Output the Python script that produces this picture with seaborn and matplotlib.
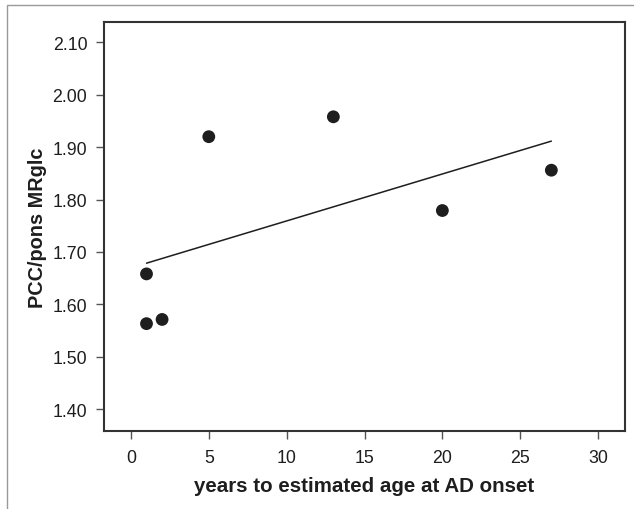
import matplotlib
matplotlib.use("Agg")
import matplotlib.pyplot as plt
import seaborn as sns
import pandas as pd
from matplotlib.patches import Rectangle

years = [1, 1, 2, 5, 13, 20, 27]
ratio = [1.658, 1.563, 1.571, 1.920, 1.958, 1.779, 1.856]
xticks = [0, 5, 10, 15, 20, 25, 30]
yticks = [1.40, 1.50, 1.60, 1.70, 1.80, 1.90, 2.00, 2.10]

sns.set_style("white")
plt.rcParams['font.family'] = ['Liberation Sans', 'DejaVu Sans']

df = pd.DataFrame({"years": years, "ratio": ratio})

fig = plt.figure(figsize=(6.34, 5.10), dpi=100)
fig.patches.append(Rectangle((7/634, -0.1), 1.2, 1 - 6/510 + 0.1, transform=fig.transFigure,
                             fill=False, edgecolor="#999999", linewidth=1.0))
ax = fig.add_axes([104/634, 78/510, 521/634, 409/510])

sns.regplot(data=df, x="years", y="ratio", ax=ax, ci=None, truncate=True,
            scatter_kws=dict(s=85, color="#1e1e1e", edgecolor="none", alpha=1, zorder=3),
            line_kws=dict(color="#1e1e1e", linewidth=1.1))

ax.set_xlim(-1.73, 31.73)
ax.set_ylim(1.358, 2.139)
ax.set_xticks(xticks)
ax.set_xticklabels([str(t) for t in xticks])
ax.set_yticks(yticks)
ax.set_yticklabels([f"{t:.2f}" for t in yticks])
ax.tick_params(axis="both", direction="out", length=6, width=1, color="#555555",
               labelsize=12.8, labelcolor="#1e1e1e")
ax.tick_params(axis="x", bottom=True, pad=7)
ax.tick_params(axis="y", left=True, pad=6)
for sp in ax.spines.values():
    sp.set_visible(True)
    sp.set_color("#333333")
    sp.set_linewidth(1.5)

ax.set_xlabel("years to estimated age at AD onset", fontsize=14.8, fontweight="bold",
              color="#1e1e1e", labelpad=7)
ax.set_ylabel("PCC/pons MRglc", fontsize=14.3, fontweight="bold", color="#1e1e1e",
              labelpad=4)

fig.savefig("out.png", dpi=100)
